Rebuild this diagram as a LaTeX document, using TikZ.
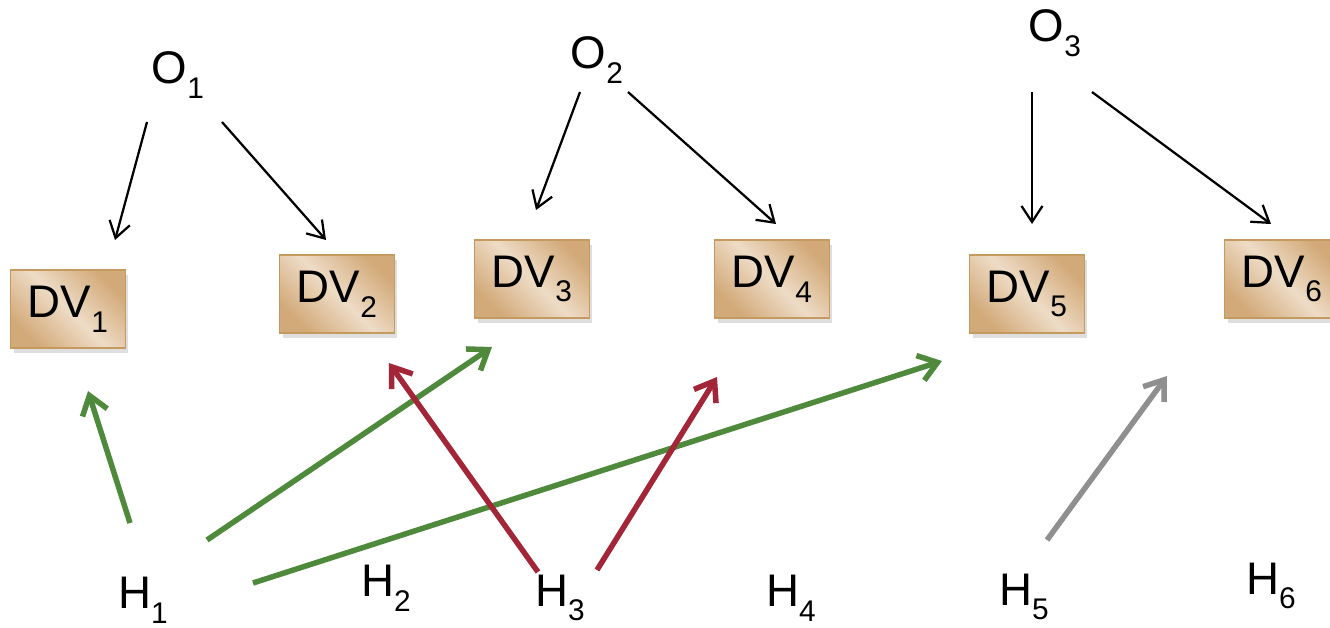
\documentclass[tikz,border=0pt]{standalone}
\usepackage{fontspec}
\setmainfont{Liberation Sans}
\usetikzlibrary{arrows.meta,shadows}
\definecolor{boxdark}{HTML}{D2A978}
\definecolor{boxlight}{HTML}{EEDCC6}
\definecolor{boxedge}{HTML}{C49A5E}
\definecolor{hgreen}{HTML}{4F8A3C}
\definecolor{hred}{HTML}{A32638}
\definecolor{hgray}{HTML}{8F8F8F}
\newcommand\lowsub[1]{\raisebox{-0.32em}{\fontsize{17}{17}\selectfont #1}}
\begin{document}
\begin{tikzpicture}[x=0.02cm,y=-0.02cm,
  lbl/.style={font=\fontsize{26}{28}\selectfont, inner sep=0pt},
  dvbox/.style={draw=boxedge, line width=0.3mm, minimum width=2.3cm, minimum height=1.56cm, inner sep=0pt,
     left color=boxdark, right color=boxdark, middle color=boxlight, shading angle=-45,
     drop shadow={opacity=0.25, shadow xshift=0.6mm, shadow yshift=-1mm},
     font=\fontsize{26}{28}\selectfont},
  oarrow/.style={line width=0.45mm, -{Straight Barb[length=3.2mm,width=4.2mm]}},
  harrow/.style={line width=1.1mm, -{Straight Barb[length=3.6mm,width=5.2mm]}}
]
\useasboundingbox (0,0) rectangle (1330,627);
% O nodes
\node[lbl] (O1) at (178,75) {O\lowsub{1}};
\node[lbl] (O2) at (597,60) {O\lowsub{2}};
\node[lbl] (O3) at (1055,33) {O\lowsub{3}};
% DV boxes
\node[dvbox] (DV1) at (68,309) {DV\lowsub{1}};
\node[dvbox] (DV2) at (337,294) {DV\lowsub{2}};
\node[dvbox] (DV3) at (532,279) {DV\lowsub{3}};
\node[dvbox] (DV4) at (772,279) {DV\lowsub{4}};
\node[dvbox] (DV5) at (1027,294) {DV\lowsub{5}};
\node[dvbox] (DV6) at (1282,279) {DV\lowsub{6}};
% H nodes
\node[lbl] (H1) at (143,600) {H\lowsub{1}};
\node[lbl] (H2) at (386,588) {H\lowsub{2}};
\node[lbl] (H3) at (560,598) {H\lowsub{3}};
\node[lbl] (H4) at (791,598) {H\lowsub{4}};
\node[lbl] (H5) at (1024,597) {H\lowsub{5}};
\node[lbl] (H6) at (1271,586) {H\lowsub{6}};
% free-end coordinates
\coordinate (o1a) at (147,122); \coordinate (d1t) at (115,240);
\coordinate (o1b) at (222,122); \coordinate (d2t) at (326,240);
\coordinate (o2a) at (580,92);  \coordinate (d3t) at (536,210);
\coordinate (o2b) at (628,92);  \coordinate (d4t) at (776,224);
\coordinate (o3a) at (1032,92); \coordinate (d5t) at (1032,224);
\coordinate (o3b) at (1092,92); \coordinate (d6t) at (1271,224);
\coordinate (h1a) at (130,523); \coordinate (d1b) at (88,391);
\coordinate (h1b) at (207,540); \coordinate (d3b) at (492,347);
\coordinate (h1c) at (253,583); \coordinate (d5b) at (942,361);
\coordinate (h3a) at (538,572); \coordinate (d2b) at (389,363);
\coordinate (h3b) at (597,570); \coordinate (d4b) at (717,377);
\coordinate (h5a) at (1047,540); \coordinate (d6b) at (1167,376);
% O arrows
\draw[oarrow] (o1a) -- (d1t);
\draw[oarrow] (o1b) -- (d2t);
\draw[oarrow] (o2a) -- (d3t);
\draw[oarrow] (o2b) -- (d4t);
\draw[oarrow] (o3a) -- (d5t);
\draw[oarrow] (o3b) -- (d6t);
% H arrows
\draw[harrow, hgreen] (h1a) -- (d1b);
\draw[harrow, hgreen] (h1b) -- (d3b);
\draw[harrow, hgreen] (h1c) -- (d5b);
\draw[harrow, hred] (h3a) -- (d2b);
\draw[harrow, hred] (h3b) -- (d4b);
\draw[harrow, hgray] (h5a) -- (d6b);
\end{tikzpicture}
\end{document}
